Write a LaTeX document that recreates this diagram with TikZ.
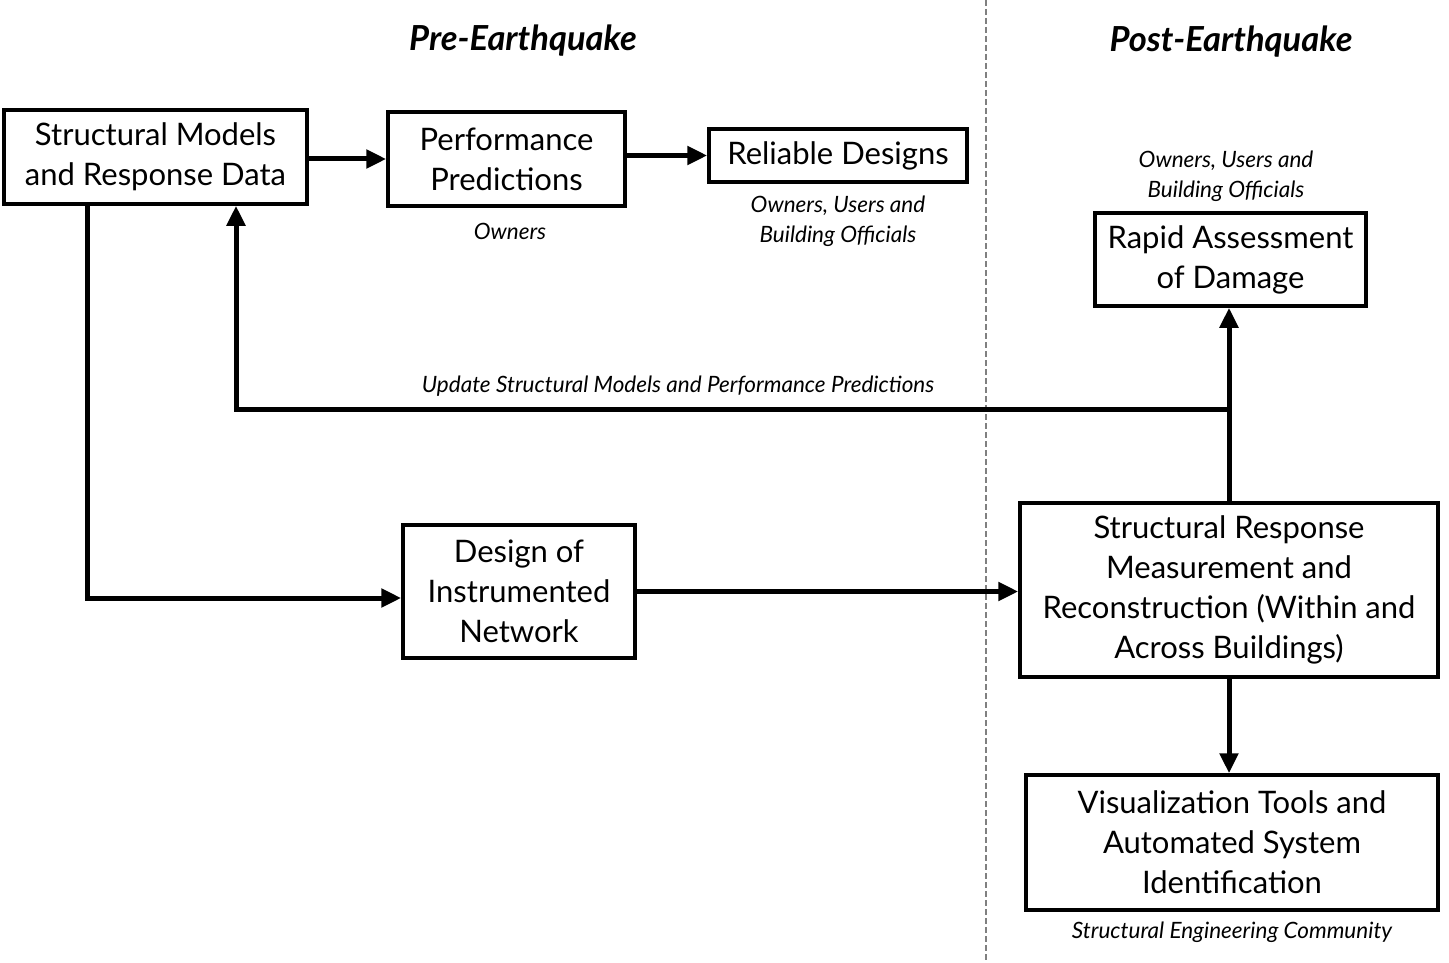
\documentclass[tikz,border=0pt]{standalone}
\usepackage{fontspec}
\setmainfont{Lato}
\usetikzlibrary{arrows.meta,positioning}
\tikzset{
 box/.style
  = {rectangle, draw, line width=3.5pt, align=center, inner sep=0pt,
     font=\fontsize{31}{40}\selectfont},
 lbl/.style
  = {align=center, inner sep=0pt, font=\itshape\fontsize{22.5}{30}\selectfont},
 hdr/.style
  = {inner sep=0pt, font=\bfseries\itshape\fontsize{34.5}{40}\selectfont},
 l/.style
  = {draw, line width=5pt, -{Triangle[length=20pt,width=18pt]}},
}

\begin{document}
\begin{tikzpicture}[x=1pt,y=-1pt]
    \useasboundingbox (0,0) rectangle (1449,963);
    \draw [gray, line width=1.5pt, dash pattern=on 6pt off 3pt] (986,0) -- (986,963);

    \node [hdr] (pre) at (523,41) {Pre-Earthquake};
    \node [hdr] (post) at (1231,42) {Post-Earthquake};

    \node [box, minimum width=303pt, minimum height=94pt] (models) at (155.5,157) {Structural Models\\and Response Data};
    \node [box, minimum width=237pt, minimum height=94pt] (perf) at (506.5,159) {Performance\\Predictions};
    \node [box, minimum width=258pt, minimum height=53pt] (reliable) at (838,155.5) {Reliable Designs};
    \node [box, minimum width=271pt, minimum height=93pt] (rapid) at (1230.5,259.5) {Rapid Assessment\\of Damage};
    \node [box, minimum width=232pt, minimum height=133pt] (design) at (519,591.5) {Design of\\Instrumented\\Network};
    \node [box, minimum width=418pt, minimum height=174pt] (measure) at (1229,590) {Structural Response\\Measurement and\\Reconstruction (Within and\\Across Buildings)};
    \node [box, minimum width=412pt, minimum height=135pt] (viz) at (1232,842.5) {Visualization Tools and\\Automated System\\Identification};

    \node [lbl] (owners) at (510,231) {Owners};
    \node [lbl] (relusers) at (838,221) {Owners, Users and\\Building Officials};
    \node [lbl] (rapusers) at (1226,176) {Owners, Users and\\Building Officials};
    \node [lbl] (update) at (678,386) {Update Structural Models and Performance Predictions};
    \node [lbl] (community) at (1232,932) {Structural Engineering Community};

    \coordinate (feedback) at (1229,409);

    \path [l] (models.east |- perf.west) -- (perf.west);
    \path [l] (perf.east |- reliable.west) -- (reliable.west);
    \path [l] ([xshift=-68.5pt]models.south) |- ([yshift=-6.5pt]design.west);
    \path [l] (design.east) -- (design.east -| measure.west);
    \path [l] (measure.north) -- (measure.north |- rapid.south);
    \path [l] (feedback) -| ([xshift=80.5pt]models.south);
    \path [l] (measure.south) -- (measure.south |- viz.north);
\end{tikzpicture}
\end{document}
